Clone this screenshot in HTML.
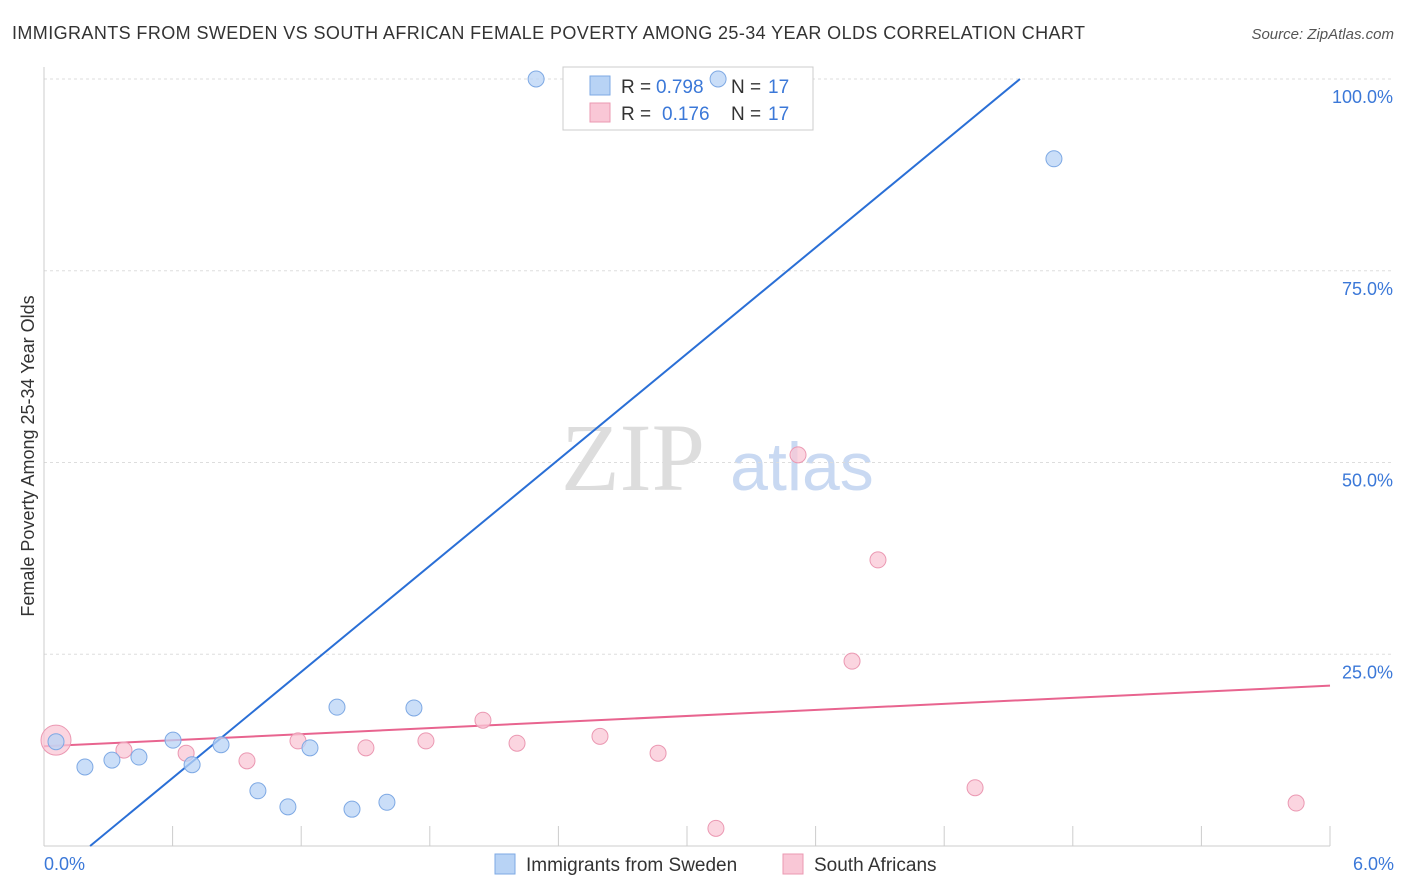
<!DOCTYPE html>
<html><head><meta charset="utf-8"><style>
body{margin:0;background:#fff;font-family:"Liberation Sans",sans-serif;}
svg{display:block}
</style></head><body>
<svg width="1406" height="892" id="chart">
<text x="12" y="39" font-size="18" fill="#333" textLength="1073">IMMIGRANTS FROM SWEDEN VS SOUTH AFRICAN FEMALE POVERTY AMONG 25-34 YEAR OLDS CORRELATION CHART</text>
<text x="1394" y="39" font-size="15" fill="#555" font-style="italic" text-anchor="end">Source: ZipAtlas.com</text>
<text x="0" y="0" transform="translate(34,456) rotate(-90)" font-size="18" fill="#333" text-anchor="middle">Female Poverty Among 25-34 Year Olds</text>
<g>
<text x="633" y="490" font-size="96" fill="#ddd" font-family="Liberation Serif,serif" text-anchor="middle">ZIP</text>
<text x="802" y="490" font-size="68" fill="#c9d9f2" text-anchor="middle">atlas</text>
</g>
<g id="grid"></g>
<g id="axes"></g>
<g id="lines"></g>
<g>
<rect x="563" y="67" width="250" height="63" fill="#fff" stroke="#ccc"/>
<rect x="590" y="76" width="20" height="19" fill="#b8d3f5" stroke="#7ea9e4"/>
<text x="621" y="93" font-size="19" fill="#333">R =</text>
<text x="656" y="93" font-size="19" fill="#3b78d8">0.798</text>
<text x="731" y="93" font-size="19" fill="#333">N =</text>
<text x="768" y="93" font-size="19" fill="#3b78d8">17</text>
<rect x="590" y="103" width="20" height="19" fill="#f9c7d6" stroke="#eb98b2"/>
<text x="621" y="120" font-size="19" fill="#333">R =</text>
<text x="662" y="120" font-size="19" fill="#3b78d8">0.176</text>
<text x="731" y="120" font-size="19" fill="#333">N =</text>
<text x="768" y="120" font-size="19" fill="#3b78d8">17</text>
</g>
<g id="points"></g>
<g>
<rect x="495" y="854" width="20" height="20" fill="#b8d3f5" stroke="#7ea9e4"/>
<text x="526" y="871" font-size="19" fill="#333">Immigrants from Sweden</text>
</g>
<g>
<rect x="783" y="854" width="20" height="20" fill="#f9c7d6" stroke="#eb98b2"/>
<text x="814" y="871" font-size="19" fill="#333">South Africans</text>
</g>
</svg>
<script>
const xTicks=[0,0.6,1.2,1.8,2.4,3.0,3.6,4.2,4.8,5.4,6.0];
const xTickLabels=["0.0%","6.0%"];
const yTicks=[25,50,75,100];
const yTickLabels=["25.0%","50.0%","75.0%","100.0%"];
const swedenX=[2.296,3.145,4.712,0.056,0.191,0.317,0.443,0.602,0.691,0.826,0.998,1.138,1.241,1.367,1.437,1.600,1.726];
const swedenY=[100,100,89.6,13.6,10.3,11.2,11.6,13.8,10.6,13.2,7.2,5.1,12.8,18.1,4.8,5.7,18.0];
const saX=[0.056,0.373,0.663,0.947,1.185,1.502,1.782,2.048,2.207,2.594,2.865,3.135,3.518,3.770,3.891,4.344,5.842];
const saY=[13.8,12.5,12.1,11.1,13.7,12.8,13.7,16.4,13.4,14.3,12.1,2.3,51.0,24.1,37.3,7.6,5.6];
const swedenTrend=[-4.96,23.05]; // intercept, slope
const saTrend=[13.0,1.317];
const X0=44,X1=1330,Y0=846,Y100=79;
const sx=v=>X0+(X1-X0)*v/6;
const sy=v=>Y0-(Y0-Y100)*v/100;
const NS="http://www.w3.org/2000/svg";
function mk(t,a,p){const e=document.createElementNS(NS,t);for(const k in a)e.setAttribute(k,a[k]);document.getElementById(p).appendChild(e);return e;}
yTicks.forEach((v,i)=>{
 const l=mk('line',{x1:X0,x2:1394,y1:sy(v),y2:sy(v),stroke:'#ddd','stroke-dasharray':'3,3'},'grid');
 
 
 const t=mk('text',{x:1393,y:sy(v)+24,'font-size':18,fill:'#3b78d8','text-anchor':'end'},'axes');
 t.textContent=yTickLabels[i];
 
 
});
const ax=mk('line',{x1:X0,x2:X0,y1:67,y2:Y0,stroke:'#ccc'},'axes');


const bx=mk('line',{x1:X0,x2:X1,y1:Y0,y2:Y0,stroke:'#ccc'},'axes');


xTicks.forEach(v=>{
 const l=mk('line',{x1:sx(v),x2:sx(v),y1:826,y2:Y0,stroke:'#ccc'},'axes');
 
 
});
[[0,'start',X0],[6,'end',1394]].forEach((d,i)=>{
 const t=mk('text',{x:d[2],y:870,'font-size':18,fill:'#3b78d8','text-anchor':d[1]},'axes');
 t.textContent=xTickLabels[i];
 
 
});
function trend(tr,xa,xb,col,name){
 const l=mk('line',{x1:sx(xa),y1:sy(tr[0]+tr[1]*xa),x2:sx(xb),y2:sy(tr[0]+tr[1]*xb),stroke:col,'stroke-width':2},'lines');
 
 
}
trend(swedenTrend,-swedenTrend[0]/swedenTrend[1],(100-swedenTrend[0])/swedenTrend[1],'#2a6fd6','sweden-trend-line');
trend(saTrend,0,6,'#e8648f','south-africans-trend-line');
function pts(xs,ys,fill,stroke,name){
 xs.forEach((x,i)=>{
  const c=mk('circle',{cx:sx(x),cy:sy(ys[i]),r:i==0&&x<0.1?15:8,fill:fill,stroke:stroke,'stroke-width':1,'fill-opacity':0.75},'points');
  
  
 });
}
pts(saX,saY,'#f9c7d6','#eb98b2','south-africans-point');
pts(swedenX,swedenY,'#b8d3f5','#7ea9e4','sweden-point');
</script>
</body></html>
